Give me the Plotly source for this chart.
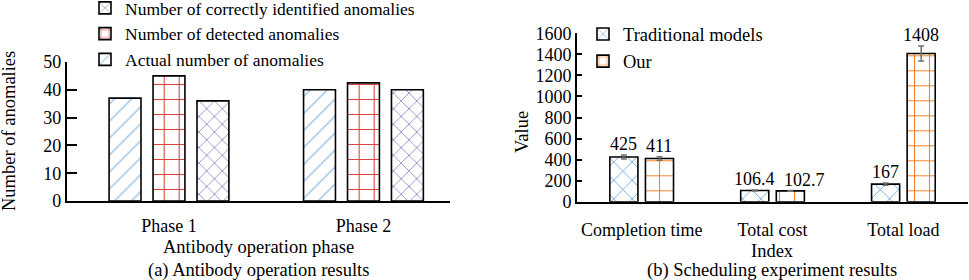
import plotly.graph_objects as go

# ---------------- Data ----------------
phases = ["Phase 1", "Phase 2"]
actual_anomalies = [37, 40]
detected_anomalies = [45, 42.5]
correct_anomalies = [36, 40]

indices = ["Completion time", "Total cost", "Total load"]
traditional = [425, 106.4, 167]
ours = [411, 102.7, 1408]
traditional_err = [19, 4, 10]
ours_err = [16, 3, 71]
traditional_lbl = ["425", "106.4", "167"]
ours_lbl = ["411", "102.7", "1408"]

FONT = "Liberation Serif, Times New Roman, serif"
W, H = 969, 280

fig = go.Figure()

def pat(shape, color, size, solidity=0.12):
    return dict(shape=shape, fgcolor=color, bgcolor="white", size=size,
                solidity=solidity, fillmode="replace", fgopacity=1)

# ---- left panel
wl = 0.164
fig.add_trace(go.Bar(
    x=[0, 1], y=actual_anomalies, name="Actual number of anomalies",
    width=wl, offset=-0.308, xaxis="x", yaxis="y", legend="legend",
    marker=dict(color="white", line=dict(color="black", width=1.6),
                pattern=pat("/", "#9dc3e6", 12, 0.12))))
fig.add_trace(go.Bar(
    x=[0, 1], y=detected_anomalies, name="Number of detected anomalies",
    width=wl, offset=-0.082, xaxis="x", yaxis="y", legend="legend",
    marker=dict(color="white", line=dict(color="black", width=1.6),
                pattern=pat("+", "#d9463e", 15, 0.14))))
fig.add_trace(go.Bar(
    x=[0, 1], y=correct_anomalies, name="Number of correctly identified anomalies",
    width=wl, offset=0.144, xaxis="x", yaxis="y", legend="legend",
    marker=dict(color="white", line=dict(color="black", width=1.6),
                pattern=pat("x", "#8d6bb8", 11, 0.13))))

# ---- right panel
wr = 0.2146
fig.add_trace(go.Bar(
    x=[0, 1, 2], y=traditional, name="Traditional models",
    width=wr, offset=-0.243, xaxis="x2", yaxis="y2", legend="legend2",
    error_y=dict(type="data", array=traditional_err, color="#707070", thickness=1.5, width=3),
    marker=dict(color="white", line=dict(color="black", width=1.6),
                pattern=pat("x", "#5b9bd5", 13, 0.12))))
fig.add_trace(go.Bar(
    x=[0, 1, 2], y=ours, name="Our",
    width=wr, offset=0.029, xaxis="x2", yaxis="y2", legend="legend2",
    error_y=dict(type="data", array=ours_err, color="#707070", thickness=1.5, width=3),
    marker=dict(color="white", line=dict(color="black", width=1.6),
                pattern=pat("+", "#f5822a", 15, 0.14))))

# label nudges (style only)
OUR_LABEL_XSHIFT = [0, 14, 0]
TRAD_LABEL_XSHIFT = [0, 0, 0]

annotations = []
for i in range(3):
    annotations.append(dict(x=i - 0.243 + wr / 2, y=traditional[i] + traditional_err[i],
                            xref="x2", yref="y2", text=traditional_lbl[i], showarrow=False,
                            xanchor="center", yanchor="bottom", yshift=-1,
                            xshift=TRAD_LABEL_XSHIFT[i], font=dict(size=18)))
    annotations.append(dict(x=i + 0.029 + wr / 2, y=ours[i] + ours_err[i],
                            xref="x2", yref="y2", text=ours_lbl[i], showarrow=False,
                            xanchor="center", yanchor="bottom", yshift=-1,
                            xshift=OUR_LABEL_XSHIFT[i], font=dict(size=18)))

def px(xp):
    return xp / W

def py(yp):
    return (H - yp) / H

def title_ann(x, y, text, angle=0):
    return dict(x=px(x), y=py(y), xref="paper", yref="paper", text=text,
                textangle=angle, showarrow=False, xanchor="center", yanchor="middle",
                font=dict(size=18.5))

annotations += [
    title_ann(9, 131, "Number of anomalies", -90),
    title_ann(258, 247, "Antibody operation phase"),
    title_ann(258, 270, "(a) Antibody operation results"),
    title_ann(522, 132, "Value", -90),
    title_ann(772, 251, "Index"),
    title_ann(772, 270, "(b) Scheduling experiment results"),
]

axis_common = dict(showgrid=False, zeroline=False, showline=True, linecolor="black",
                   linewidth=1.6, tickfont=dict(family=FONT, size=18, color="black"),
                   automargin=False)

fig.update_layout(
    width=W, height=H,
    margin=dict(l=0, r=0, t=0, b=0, autoexpand=False),
    paper_bgcolor="white", plot_bgcolor="white",
    font=dict(family=FONT, size=18, color="black"),
    barmode="overlay",
    xaxis=dict(domain=[px(66.7), px(450)], range=[-0.526, 1.445], tickmode="array",
               tickvals=[0, 1], ticktext=phases, ticks="", ticklabelstandoff=8,
               anchor="y", **axis_common),
    yaxis=dict(domain=[py(201), py(62)], range=[0, 50], tickvals=[0, 10, 20, 30, 40, 50],
               ticks="inside", ticklen=10, tickwidth=1.6, tickcolor="black",
               anchor="x", **axis_common),
    xaxis2=dict(domain=[px(577), px(968)], range=[-0.494, 2.494], tickmode="array",
                tickvals=[0, 1, 2], ticktext=indices, ticks="", ticklabelstandoff=11,
                anchor="y2", **axis_common),
    yaxis2=dict(domain=[py(201.7), py(33.3)], range=[0, 1600],
                tickvals=[0, 200, 400, 600, 800, 1000, 1200, 1400, 1600],
                ticks="inside", ticklen=5, tickwidth=1.6, tickcolor="black",
                anchor="x2", **axis_common),
    legend=dict(x=px(85), y=py(-10), xanchor="left", yanchor="top", traceorder="reversed",
                bgcolor="rgba(0,0,0,0)", font=dict(family=FONT, size=17.5),
                tracegroupgap=0),
    legend2=dict(x=px(583), y=py(15.5), xanchor="left", yanchor="top", traceorder="normal",
                 bgcolor="rgba(0,0,0,0)", font=dict(family=FONT, size=18.5), tracegroupgap=0),
    annotations=annotations,
    showlegend=True,
)

fig.write_html(
    "out.html",
    config={"displayModeBar": False},
    post_script="document.body.style.margin='0';document.body.style.overflow='hidden';",
)
